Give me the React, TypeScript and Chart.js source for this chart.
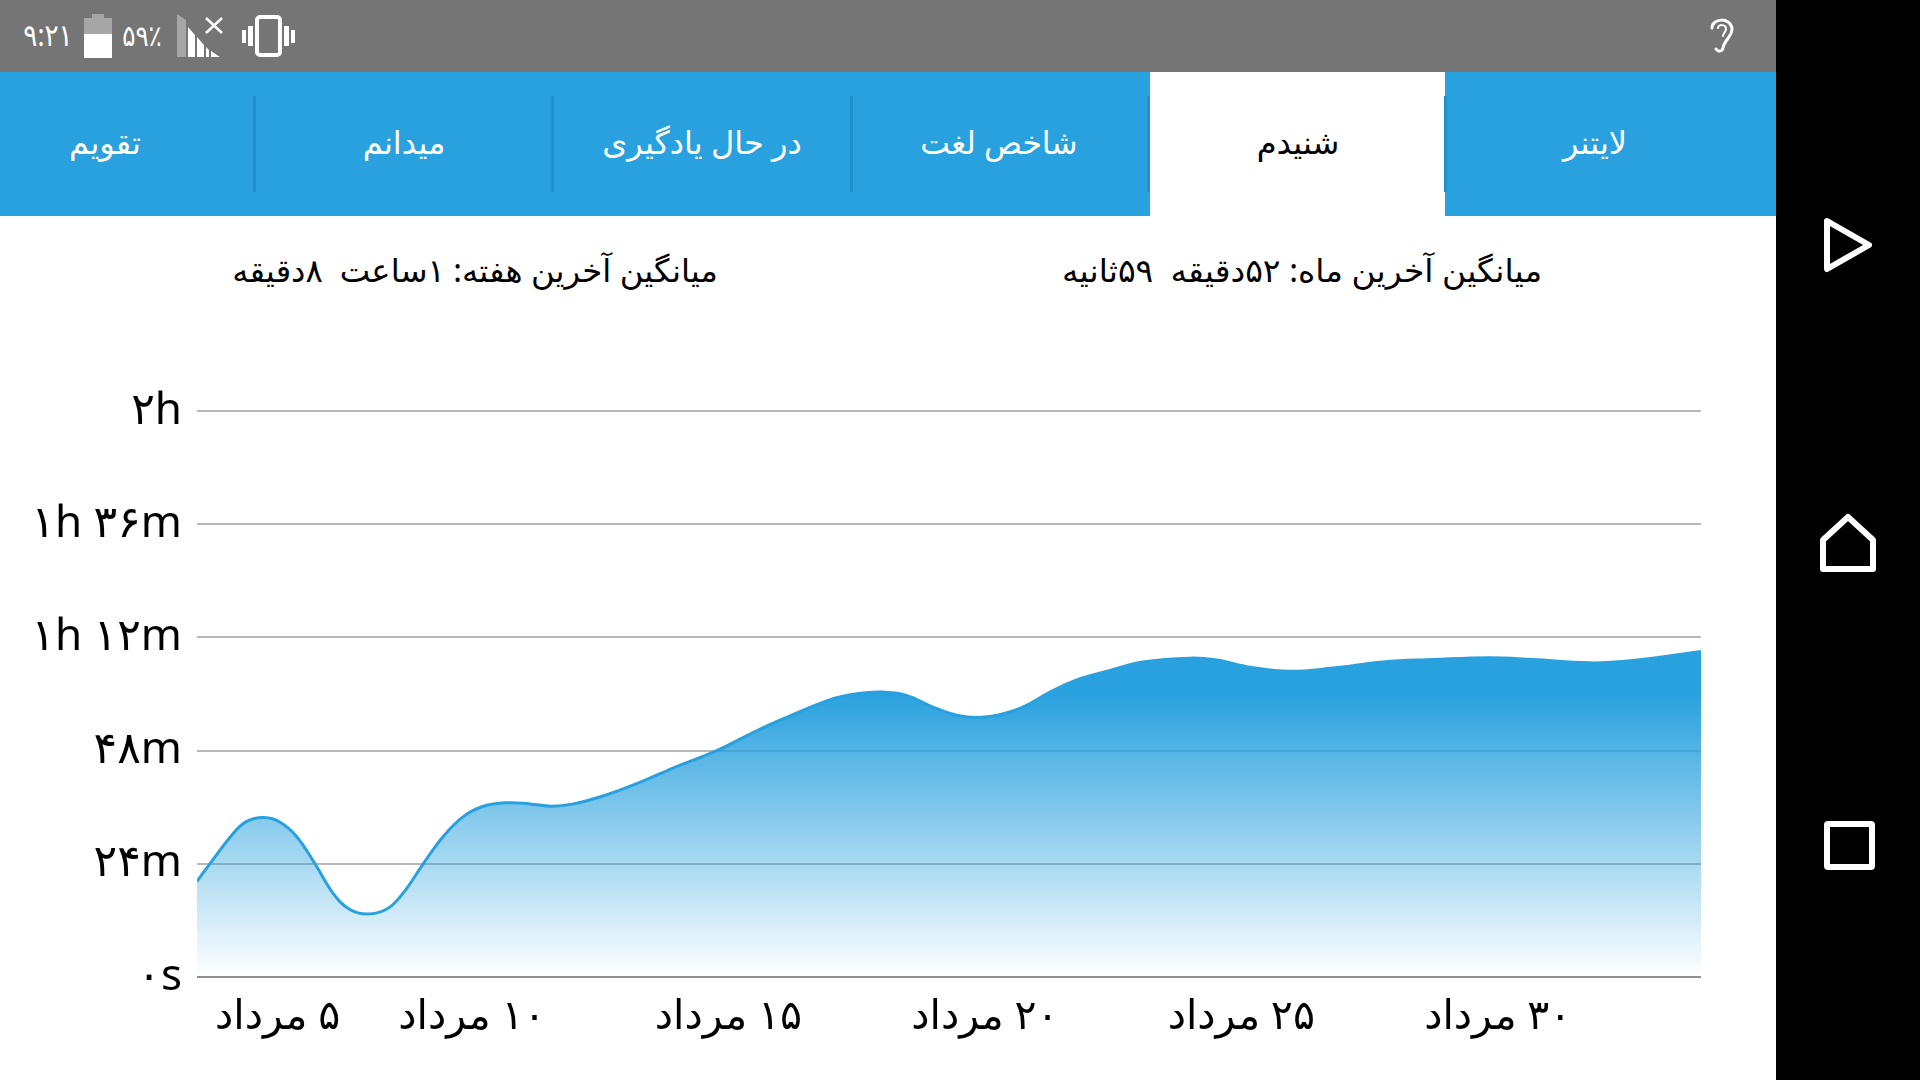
import React, { useEffect, useRef } from "react";
import { Chart, registerables } from "chart.js";

Chart.register(...registerables);

const dayPositions = [4.7,4.95,5.41,5.67,6.01,6.32,6.64,7.0,7.35,7.68,8.03,8.4,8.72,9.11,9.5,9.89,10.28,10.74,11.19,11.61,12.04,12.69,13.34,13.98,14.83,15.48,16.12,17.1,17.56,18.05,18.53,19.05,19.51,19.93,20.35,20.8,21.33,21.85,22.5,23.14,24.06,24.58,25.23,26.01,26.84,27.82,28.79,29.9,30.74,31.85,32.69,34.02];
const listenedMinutes = [20.3,24,30.5,33,33.8,32.8,29.8,24,17.8,14.3,13.35,14.4,17.8,24,29.8,34,36.2,36.95,36.7,36.2,36.7,38.65,41.3,44.3,48,51.5,54.7,59,60.06,60.4,59.7,57.2,55.5,55,55.6,57.2,60.4,63,65,66.8,67.6,67.2,65.7,64.8,65.5,66.8,67.3,67.7,67.3,66.6,67.1,69];
const yTickValues = [0,24,48,72,96,120];
const yTickLabels = ["۰s","۲۴m","۴۸m","۱h ۱۲m","۱h ۳۶m","۲h"];
const xTickDays = [5,10,15,20,25,30];
const xTickLabels = ["۵ مرداد","۱۰ مرداد","۱۵ مرداد","۲۰ مرداد","۲۵ مرداد","۳۰ مرداد"];
const tabLabels = ["تقویم","میدانم","در حال یادگیری","شاخص لغت","شنیدم","لایتنر"];
const tabCenters = [105,404,702,999,1298,1595];
const dividerXs = [254,552,851,1148,1445];
const weekAverage = "میانگین آخرین هفته: ۱ساعت  ۸دقیقه";
const monthAverage = "میانگین آخرین ماه: ۵۲دقیقه  ۵۹ثانیه";

const FONT = '"Noto Sans", "DejaVu Sans", sans-serif';
const BLUE = "#29a1de";

const xLabelPlugin = {
  id: "xLabels",
  afterDraw(chart: any) {
    const { ctx, scales, chartArea } = chart;
    ctx.save();
    ctx.font = `41px ${FONT}`;
    ctx.direction = "rtl";
    ctx.fillStyle = "#000";
    ctx.textAlign = "center";
    ctx.textBaseline = "middle";
    xTickDays.forEach((d, i) => {
      const w = ctx.measureText(xTickLabels[i]).width;
      const x = Math.max(scales.x.getPixelForValue(d) + 3, chartArea.left + 18 + w / 2);
      ctx.fillText(xTickLabels[i], x, chartArea.bottom + 40);
    });
    ctx.restore();
  },
};

function Label(props: { x: number; y: number; text: string; size: number; color: string; sx?: number; dir?: string }) {
  const { x, y, text, size, color, sx = 1, dir = "rtl" } = props;
  return (
    <div
      dir={dir}
      style={{
        position: "absolute", left: x, top: y, whiteSpace: "pre", fontFamily: FONT, fontSize: size, color,
        lineHeight: 1, transform: `translate(-50%,-50%) scaleX(${sx})`,
      }}
    >
      {text}
    </div>
  );
}

export default function App() {
  const ref = useRef<HTMLCanvasElement>(null);
  useEffect(() => {
    document.body.style.margin = "0";
    const chart = new Chart(ref.current!, {
      type: "line",
      plugins: [xLabelPlugin],
      data: {
        datasets: [{
          data: dayPositions.map((x, i) => ({ x, y: listenedMinutes[i] })),
          borderColor: BLUE,
          borderWidth: 3,
          pointRadius: 0,
          tension: 0.4,
          fill: "origin",
          backgroundColor: (c: any) => {
            const { chart: ch } = c;
            if (!ch.chartArea) return "rgba(41,161,222,0.5)";
            const y0 = ch.scales.y.getPixelForValue(0);
            const y1 = ch.scales.y.getPixelForValue(60);
            const g = ch.ctx.createLinearGradient(0, y1, 0, y0);
            g.addColorStop(0, "rgba(41,161,222,1)");
            g.addColorStop(1, "rgba(41,161,222,0)");
            return g;
          },
        }],
      },
      options: {
        animation: false,
        responsive: false,
        layout: { padding: { top: 195, right: 75, left: 0, bottom: 0 } },
        plugins: { legend: { display: false }, tooltip: { enabled: false } },
        scales: {
          x: {
            type: "linear",
            min: 4.7,
            max: 34.02,
            grid: { display: false },
            border: { display: false },
            ticks: { display: false },
            afterFit: (s: any) => { s.height = 103; },
          },
          y: {
            min: 0,
            max: 120,
            afterBuildTicks: (s: any) => { s.ticks = yTickValues.map((value) => ({ value })); },
            afterFit: (s: any) => { s.width = 197; },
            border: { display: false },
            grid: {
              drawTicks: false,
              color: (c: any) => (c.tick.value === 0 ? "#8f8f8f" : "#b8b8b8"),
              lineWidth: 2,
            },
            ticks: {
              padding: 15,
              color: "#000",
              font: { family: FONT, size: 44 },
              callback: (v: any) => yTickLabels[yTickValues.indexOf(v)],
            },
          },
        },
      },
    } as any);
    return () => chart.destroy();
  }, []);

  return (
    <div style={{ position: "absolute", left: 0, top: 0, width: 1920, height: 1080, background: "#fff", overflow: "hidden" }}>
      {/* status bar */}
      <div style={{ position: "absolute", left: 0, top: 0, width: 1776, height: 72, background: "#757575" }} />
      <Label x={48} y={34} text="۹:۲۱" size={31} color="#fff" dir="ltr" sx={0.85} />
      <Label x={142} y={34} text="۵۹٪" size={29} color="#fff" dir="ltr" sx={0.85} />
      <svg style={{ position: "absolute", left: 0, top: 0 }} width={320} height={72}>
        <path d="M92 14h12v4h8v16H84V18h8z" fill="#a6a6a6" />
        <rect x={84} y={34} width={28} height={24} fill="#fff" />
        <path d="M177 14l9 6v37h-9z" fill="#a6a6a6" />
        <path d="M188 27l7 8v22h-7z M197 37l7 8v12h-7z M211 51l9 6h-9z M206 47l0 10h3v-7z" fill="#fff" />
        <path d="M206 18l16 15M222 18l-16 15" stroke="#fff" strokeWidth={2.5} />
        <rect x={257} y={17} width={23} height={38} rx={3} fill="none" stroke="#fff" strokeWidth={4} />
        <rect x={242} y={30} width={4} height={13} fill="#fff" />
        <rect x={248} y={26} width={5} height={20} fill="#fff" />
        <rect x={284} y={26} width={5} height={20} fill="#fff" />
        <rect x={291} y={30} width={4} height={13} fill="#fff" />
      </svg>
      <svg style={{ position: "absolute", left: 1699, top: 10 }} width={50} height={50}>
        <path d="M13 18c0-10 18-11 20 0 1 8-8 12-9 20-1 4-5 4-7 1" fill="none" stroke="#fff" strokeWidth={3} strokeLinecap="round" />
        <path d="M19 18c0-4 8-4 8 1 0 3-3 4-3 7" fill="none" stroke="#fff" strokeWidth={2} strokeLinecap="round" />
      </svg>

      {/* tabs */}
      <div style={{ position: "absolute", left: 0, top: 72, width: 1776, height: 144, background: BLUE }} />
      <div style={{ position: "absolute", left: 1150, top: 72, width: 295, height: 144, background: "#fff" }} />
      {dividerXs.map((x) => (
        <div key={x} style={{ position: "absolute", left: x - 1, top: 96, width: 3, height: 96, background: "#2190c9" }} />
      ))}
      {tabLabels.map((t, i) => (
        <Label key={t} x={tabCenters[i]} y={142} text={t} size={32} color={i === 4 ? "#000" : "#fff"} sx={i === 3 ? 0.98 : 1} />
      ))}

      {/* averages */}
      <Label x={475} y={270} text={weekAverage} size={32} color="#000" sx={1.01} />
      <Label x={1302} y={270} text={monthAverage} size={32} color="#000" sx={1.03} />

      {/* chart */}
      <canvas ref={ref} width={1776} height={864} style={{ position: "absolute", left: 0, top: 216, width: 1776, height: 864 }} />

      {/* navigation */}
      <div style={{ position: "absolute", left: 1776, top: 0, width: 144, height: 1080, background: "#000" }} />
      <svg style={{ position: "absolute", left: 1776, top: 0 }} width={144} height={1080}>
        <path d="M51 221L93 245L51 269Z" fill="none" stroke="#fff" strokeWidth={6} strokeLinejoin="round" />
        <path d="M47 540L72 517L97 540V569H47Z" fill="none" stroke="#fff" strokeWidth={6} strokeLinejoin="round" />
        <rect x={51} y={824} width={45} height={43} fill="none" stroke="#fff" strokeWidth={6} rx={1} />
      </svg>
    </div>
  );
}
